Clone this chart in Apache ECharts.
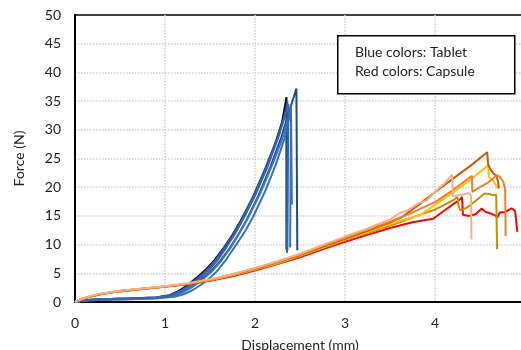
<!DOCTYPE html>
<html>
<head>
<meta charset="utf-8">
<script src="https://cdn.jsdelivr.net/npm/echarts@6/dist/echarts.min.js"></script>
<style>
  html, body { margin: 0; padding: 0; background: #fff; }
  #chart { width: 521px; height: 350px; }
</style>
</head>
<body>
<div id="chart"></div>
<script>
// tablet curves (blue colours), [displacement mm, force N]
const tabletBlack = [[0,0],[0.1,0.3],[0.3,0.5],[0.6,0.6],[0.9,0.8],[1.05,1.2],[1.15,1.9],[1.25,2.9],[1.35,4.2],[1.45,5.6],[1.55,7.3],[1.66,9.6],[1.75,11.7],[1.84,14.1],[1.97,18.0],[2.1,22.6],[2.22,27.4],[2.3,31.3],[2.35,35.7],[2.35,9.2]]
const tabletNavy = [[0,0],[0.1,0.3],[0.3,0.5],[0.6,0.6],[0.9,0.8],[1.1,1.2],[1.2,1.8],[1.3,2.7],[1.4,3.9],[1.5,5.2],[1.6,6.9],[1.72,9.4],[1.82,11.9],[1.9,14.1],[2.04,18.6],[2.17,23.5],[2.29,28.6],[2.38,33.2],[2.46,37.2],[2.47,9.0]]
const tabletDark = [[0,0],[0.1,0.2],[0.3,0.4],[0.6,0.5],[0.9,0.7],[1.05,1.1],[1.15,1.7],[1.25,2.7],[1.36,4.1],[1.46,5.5],[1.56,7.3],[1.67,9.7],[1.77,12.1],[1.86,14.6],[1.99,18.7],[2.12,23.4],[2.25,28.6],[2.33,32.4],[2.36,34.8],[2.355,8.6]]
const tabletMid = [[0,0],[0.1,0.3],[0.3,0.5],[0.6,0.6],[0.9,0.8],[1.1,1.1],[1.2,1.7],[1.3,2.6],[1.41,3.8],[1.52,5.3],[1.62,7.1],[1.74,9.7],[1.83,12.1],[1.92,14.6],[2.06,19.0],[2.19,23.8],[2.3,28.3],[2.37,32.0],[2.4,34.0],[2.41,17.0]]
const tabletLight = [[0,0],[0.1,0.2],[0.3,0.4],[0.6,0.5],[0.9,0.6],[1.1,0.9],[1.2,1.3],[1.3,2.0],[1.4,3.0],[1.5,4.2],[1.58,5.4],[1.68,7.4],[1.8,10.2],[1.9,12.6],[1.98,14.9],[2.11,19.2],[2.23,23.9],[2.33,28.6],[2.38,32.2],[2.4,33.5],[2.39,9.5]]
const tabletBlue = [[0,0],[0.1,0.3],[0.3,0.5],[0.6,0.6],[0.9,0.7],[1.05,1.1],[1.15,1.7],[1.25,2.6],[1.37,3.9],[1.48,5.4],[1.58,7.2],[1.69,9.7],[1.79,12.2],[1.87,14.5],[2.0,18.5],[2.14,23.6],[2.26,28.7],[2.34,32.8],[2.37,34.5],[2.36,9.0]]

// capsule curves (red colours)
const capsuleRed = [[0,0],[0.05,0.35],[0.1,0.6],[0.2,1.05],[0.3,1.4],[0.5,1.85],[0.75,2.25],[1.0,2.65],[1.25,3.1],[1.5,3.7],[1.75,4.5],[2.0,5.5],[2.25,6.6],[2.5,7.8],[2.75,9.2],[3.0,10.5],[3.25,11.7],[3.5,12.9],[3.75,13.9],[3.98,14.5],[4.1,15.9],[4.2,17.0],[4.28,17.9],[4.3,18.3],[4.31,15.2],[4.38,15.0],[4.45,15.3],[4.52,16.3],[4.56,15.7],[4.59,15.6],[4.67,15.1],[4.69,14.7],[4.72,15.6],[4.78,15.7],[4.85,16.3],[4.89,15.9],[4.91,15.6],[4.915,12.2]]
const capsuleOlive = [[0,0],[0.05,0.35],[0.1,0.6],[0.2,1.1],[0.3,1.45],[0.5,1.9],[0.75,2.3],[1.0,2.7],[1.25,3.15],[1.5,3.8],[1.75,4.6],[2.0,5.6],[2.25,6.7],[2.5,8.0],[2.75,9.4],[3.0,10.8],[3.25,12.0],[3.5,13.3],[3.61,13.9],[3.8,15.0],[4.0,16.1],[4.2,17.7],[4.25,18.3],[4.26,16.9],[4.28,16.0],[4.35,16.4],[4.45,17.6],[4.55,18.9],[4.6,18.8],[4.65,18.6],[4.68,18.7],[4.69,9.2]]
const capsuleGold = [[0,0],[0.05,0.35],[0.1,0.65],[0.2,1.1],[0.3,1.45],[0.5,1.9],[0.75,2.3],[1.0,2.7],[1.25,3.2],[1.5,3.85],[1.75,4.7],[2.0,5.7],[2.25,6.8],[2.5,8.1],[2.75,9.5],[3.0,10.9],[3.25,12.2],[3.5,13.6],[3.83,15.1],[4.0,16.9],[4.2,19.1],[4.4,21.4],[4.59,23.8],[4.6,21.8],[4.64,21.2],[4.67,20.5],[4.7,19.8]]
const capsuleBrown = [[0,0],[0.05,0.35],[0.1,0.65],[0.2,1.1],[0.3,1.45],[0.5,1.9],[0.75,2.3],[1.0,2.7],[1.25,3.2],[1.5,3.9],[1.75,4.8],[2.0,5.8],[2.25,6.9],[2.5,8.2],[2.75,9.6],[3.0,11.0],[3.25,12.4],[3.5,13.9],[3.61,14.6],[3.8,16.7],[3.98,18.9],[4.2,21.5],[4.4,23.8],[4.58,26.1],[4.59,24.0],[4.62,23.0],[4.65,22.4],[4.68,22.0],[4.7,21.0],[4.71,19.8]]
const capsuleOrange = [[0,0],[0.05,0.35],[0.1,0.65],[0.2,1.1],[0.3,1.45],[0.5,1.9],[0.75,2.3],[1.0,2.7],[1.25,3.2],[1.5,3.9],[1.75,4.8],[2.0,5.9],[2.25,7.0],[2.5,8.3],[2.75,9.8],[3.0,11.2],[3.25,12.6],[3.5,14.0],[3.75,15.6],[4.0,17.4],[4.2,19.5],[4.41,22.0],[4.415,19.2],[4.5,20.0],[4.59,20.8],[4.65,21.6],[4.69,22.1],[4.72,21.8],[4.76,20.9],[4.78,19.5],[4.785,11.5]]
const capsuleSalmon = [[0,0],[0.05,0.4],[0.1,0.7],[0.2,1.15],[0.3,1.5],[0.5,1.95],[0.75,2.35],[1.0,2.75],[1.25,3.25],[1.5,3.95],[1.75,4.85],[2.0,5.9],[2.25,7.1],[2.5,8.4],[2.75,9.9],[3.0,11.4],[3.25,12.8],[3.5,14.4],[3.61,15.5],[3.7,16.0],[3.83,17.3],[3.9,17.6],[4.02,19.5],[4.1,20.6],[4.19,22.2],[4.2,18.4],[4.3,18.7],[4.38,19.0],[4.4,18.5],[4.405,10.9]]

const xTicks = [0, 1, 2, 3, 4]
const legendLines = ['Blue colors: Tablet', 'Red colors: Capsule']

const curves = [
  { data: tabletBlack, color: '#111111' },
  { data: tabletNavy, color: '#1f4e79' },
  { data: tabletDark, color: '#2f5597' },
  { data: tabletMid, color: '#4472c4' },
  { data: tabletLight, color: '#2e75b6' },
  { data: tabletBlue, color: '#3a64ad' },
  { data: capsuleRed, color: '#ff0000' },
  { data: capsuleOlive, color: '#bf9000' },
  { data: capsuleGold, color: '#ffc000' },
  { data: capsuleBrown, color: '#c55a11' },
  { data: capsuleOrange, color: '#ed7d31' },
  { data: capsuleSalmon, color: '#f4b183' }
]

const font = 'Lato, "Open Sans", sans-serif'
const chart = echarts.init(document.getElementById('chart'))

const option = {
  animation: false,
  grid: {
    left: 75,
    top: 15,
    bottom: 48,
    width: 450,
    outerBoundsMode: 'none',
    show: true,
    borderColor: '#000',
    borderWidth: 1.5
  },
  xAxis: {
    type: 'value',
    min: 0,
    max: 5,
    interval: 1,
    name: 'Displacement (mm)',
    nameLocation: 'middle',
    nameGap: 36,
    nameTextStyle: { fontFamily: font, fontSize: 14, color: '#222' },
    axisLine: { show: true, lineStyle: { color: '#000', width: 2 } },
    axisTick: { show: false },
    axisLabel: {
      fontFamily: font, fontSize: 14, color: '#222', margin: 14,
      formatter: v => xTicks.includes(v) ? String(v) : ''
    },
    splitLine: { show: true, showMinLine: false, showMaxLine: false, lineStyle: { color: '#d0d0d0', type: 'dotted', width: 1.5 } }
  },
  yAxis: {
    type: 'value',
    min: 0,
    max: 50,
    interval: 5,
    name: 'Force (N)',
    nameLocation: 'middle',
    nameGap: 49,
    nameRotate: 90,
    nameTextStyle: { fontFamily: font, fontSize: 14, color: '#222' },
    axisLine: { show: true, lineStyle: { color: '#000', width: 2 } },
    axisTick: { show: false },
    axisLabel: { fontFamily: font, fontSize: 14, color: '#222', margin: 14 },
    splitLine: { show: true, showMinLine: false, showMaxLine: false, lineStyle: { color: '#d0d0d0', type: 'dotted', width: 1.5 } }
  },
  graphic: [
    {
      type: 'rect',
      left: 337, top: 35,
      shape: { width: 177, height: 58 },
      style: { fill: '#fff', stroke: '#000', lineWidth: 1.5 },
      z: 100
    },
    {
      type: 'text',
      left: 355, top: 45,
      style: { text: legendLines[0], font: '14px ' + font, fill: '#222' },
      z: 101
    },
    {
      type: 'text',
      left: 355, top: 64,
      style: { text: legendLines[1], font: '14px ' + font, fill: '#222' },
      z: 101
    }
  ],
  series: curves.map(c => ({
    type: 'line',
    data: c.data,
    showSymbol: false,
    lineStyle: { color: c.color, width: 2 },
    itemStyle: { color: c.color }
  }))
}

chart.setOption(option)
</script>
</body>
</html>
